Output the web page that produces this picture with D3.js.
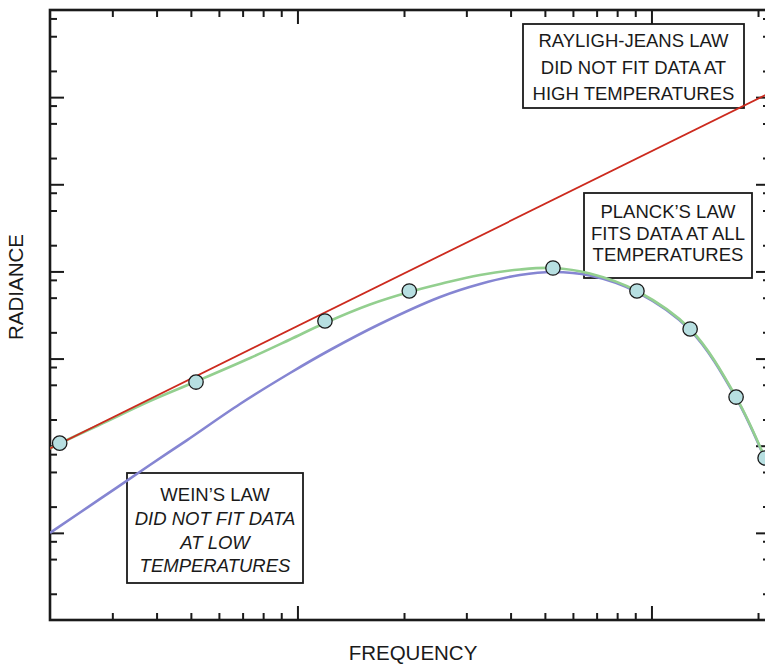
<!DOCTYPE html>
<html>
<head>
<meta charset="utf-8">
<script src="https://cdn.jsdelivr.net/npm/d3@7"></script>
<style>
  html, body { margin: 0; padding: 0; background: #fff; }
  svg { display: block; }
  text { font-family: "Liberation Sans", Arial, Helvetica, sans-serif; fill: #1a1a1a; }
</style>
</head>
<body>
<svg id="chart" width="765" height="664"></svg>
<script>
// ---- data (log-log axes, arbitrary units) ----
const obsFreq = [2.13, 5.17, 11.96, 20.7, 52.7, 91.0, 128.6, 173.4, 209.4];
const obsRad  = [107, 538, 2700, 5965, 10950, 5965, 2185, 362, 72.3];

const rjFreq = [2.0, 216.2];
const rjRad  = [93.2, 1.125e6];

const planckFreq = [2.0, 2.13, 2.77, 3.83, 5.17, 7.35, 9.53, 11.96, 16.03, 20.7, 25.3, 32.8, 42.5, 52.7, 67.0, 91.0, 128.6, 173.4, 216.2];
const planckRad  = [92.9, 106, 175, 326, 546, 1015, 1656, 2561, 4175, 5808, 7177, 9103, 10525, 10950, 9471, 5965, 2185, 362, 52.6];

const wienFreq = [2.0, 2.77, 3.83, 4.88, 6.88, 9.53, 12.36, 17.1, 25.3, 32.8, 42.5, 52.7, 67.0, 91.0, 128.6, 173.4, 216.2];
const wienRad  = [10, 24.5, 60.1, 116, 301, 683, 1254, 2494, 5090, 7177, 9103, 9854, 8984, 5808, 2129, 353, 51.3];

const xMajor = [10, 100];
const xMinor = [3, 4, 5, 6, 7, 8, 9, 20, 30, 40, 50, 60, 70, 80, 90, 200];
const yMajor = [1e1, 1e2, 1e3, 1e4, 1e5, 1e6];
const yMinor = [];
for (let k = 0; k <= 6; k++) [2, 5, 8].forEach(m => yMinor.push(m * Math.pow(10, k)));

const xLabel = "FREQUENCY";
const yLabel = "RADIANCE";
const boxRJ = ["RAYLIGH-JEANS LAW", "DID NOT FIT DATA AT", "HIGH TEMPERATURES"];
const boxPlanck = ["PLANCK\u2019S LAW", "FITS DATA AT ALL", "TEMPERATURES"];
const boxWien = ["WEIN\u2019S LAW", "DID NOT FIT DATA", "AT LOW", "TEMPERATURES"];

// ---- layout ----
const L = 50, R = 770, T = 10, B = 620;
const svg = d3.select("#chart");
const x = d3.scaleLog().domain([2, 216.2]).range([L, R]);
const y = d3.scaleLog().domain([1, 1e7]).range([B, T]);

svg.append("defs").append("clipPath").attr("id", "plotclip")
  .append("rect").attr("x", L).attr("y", T).attr("width", R - L).attr("height", B - T);

// ---- axes (ticks inward on all four sides) ----
function styleAxis(g) {
  g.select(".domain").remove();
  g.selectAll(".tick line").attr("stroke", "#1a1a1a").attr("stroke-width", 2);
  g.selectAll(".tick text").remove();
}
const minorLen = 7, majorLen = 14;
svg.append("g").attr("transform", `translate(0,${B})`)
  .call(d3.axisBottom(x).tickValues(xMinor).tickSize(-minorLen).tickFormat("")).call(styleAxis);
svg.append("g").attr("transform", `translate(0,${B})`)
  .call(d3.axisBottom(x).tickValues(xMajor).tickSize(-majorLen).tickFormat("")).call(styleAxis);
svg.append("g").attr("transform", `translate(0,${T})`)
  .call(d3.axisTop(x).tickValues(xMinor).tickSize(-minorLen).tickFormat("")).call(styleAxis);
svg.append("g").attr("transform", `translate(0,${T})`)
  .call(d3.axisTop(x).tickValues(xMajor).tickSize(-majorLen).tickFormat("")).call(styleAxis);
svg.append("g").attr("transform", `translate(${L},0)`)
  .call(d3.axisLeft(y).tickValues(yMinor).tickSize(-minorLen).tickFormat("")).call(styleAxis);
svg.append("g").attr("transform", `translate(${L},0)`)
  .call(d3.axisLeft(y).tickValues(yMajor).tickSize(-majorLen).tickFormat("")).call(styleAxis);
svg.append("g").attr("transform", `translate(${R},0)`)
  .call(d3.axisRight(y).tickValues(yMinor).tickSize(-minorLen).tickFormat("")).call(styleAxis);
svg.append("g").attr("transform", `translate(${R},0)`)
  .call(d3.axisRight(y).tickValues(yMajor).tickSize(-majorLen).tickFormat("")).call(styleAxis);

svg.append("rect").attr("x", L).attr("y", T).attr("width", R - L).attr("height", B - T)
  .attr("fill", "none").attr("stroke", "#1a1a1a").attr("stroke-width", 2.6);

// ---- annotation boxes ----
function box(lines, x0, y0, x1, y1, baselines, italicFrom) {
  const g = svg.append("g");
  g.append("rect").attr("x", x0).attr("y", y0).attr("width", x1 - x0).attr("height", y1 - y0)
    .attr("fill", "#fff").attr("stroke", "#1a1a1a").attr("stroke-width", 1.8);
  lines.forEach((t, i) => {
    g.append("text").attr("x", (x0 + x1) / 2).attr("y", baselines[i])
      .attr("text-anchor", "middle").attr("font-size", 18.5)
      .attr("font-style", (italicFrom !== undefined && i >= italicFrom) ? "italic" : "normal")
      .text(t);
  });
}
box(boxRJ, 523, 24, 744, 108, [46.5, 73.5, 100], undefined);
box(boxPlanck, 584, 193, 752, 278, [217.5, 239.5, 261], undefined);
box(boxWien, 127, 473, 303, 583, [501, 525, 548.5, 572], 1);

// ---- curves ----
const plot = svg.append("g").attr("clip-path", "url(#plotclip)");
const lineGen = d3.line().x(d => x(d[0])).y(d => y(d[1])).curve(d3.curveCatmullRom.alpha(0.5));
const zip = (a, b) => a.map((v, i) => [v, b[i]]);

plot.append("path").datum(zip(wienFreq, wienRad)).attr("d", lineGen)
  .attr("fill", "none").attr("stroke", "#8585d2").attr("stroke-width", 2.6);
plot.append("path").datum(zip(planckFreq, planckRad)).attr("d", lineGen)
  .attr("fill", "none").attr("stroke", "#93cf8f").attr("stroke-width", 2.6);
plot.append("path").datum(zip(rjFreq, rjRad)).attr("d", d3.line().x(d => x(d[0])).y(d => y(d[1])))
  .attr("fill", "none").attr("stroke", "#cc2a1e").attr("stroke-width", 1.8);

// ---- observed data points ----
svg.append("g").selectAll("circle").data(zip(obsFreq, obsRad)).join("circle")
  .attr("cx", d => x(d[0])).attr("cy", d => y(d[1])).attr("r", 7.2)
  .attr("fill", "#b7dfe1").attr("stroke", "#1a1a1a").attr("stroke-width", 1.3);

// ---- axis labels ----
svg.append("text").attr("x", 413).attr("y", 660).attr("text-anchor", "middle")
  .attr("font-size", 20.5).text(xLabel);
svg.append("text").attr("transform", "translate(23,287) rotate(-90)").attr("text-anchor", "middle")
  .attr("font-size", 20.5).text(yLabel);
</script>
</body>
</html>
